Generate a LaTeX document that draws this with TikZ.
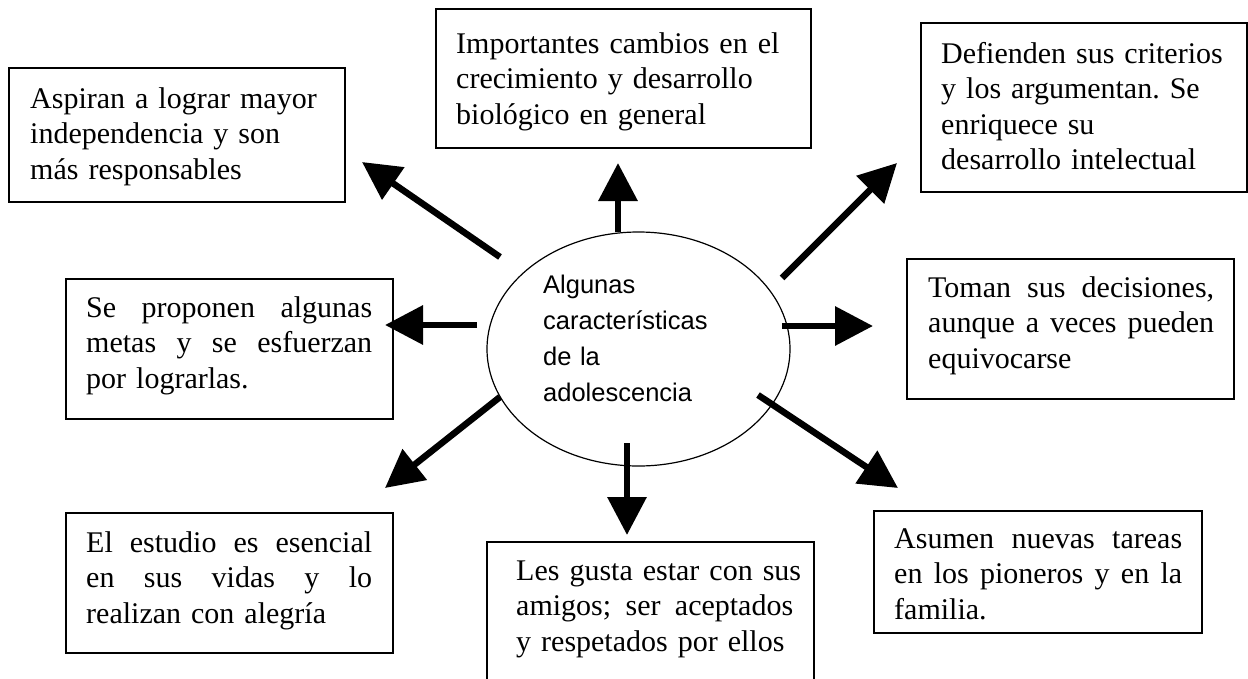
\documentclass[tikz,border=0pt]{standalone}
\usepackage{fontspec}
\setmainfont{Liberation Serif}
\newfontfamily\arialf{Liberation Sans}
\usetikzlibrary{arrows.meta}
\frenchspacing
\tikzset{
  box/.style={draw, line width=1.5pt, rectangle, inner sep=0pt},
  txt/.style={anchor=base west, inner sep=0pt, align=left, text width=360pt,
    font=\fontsize{30}{35.5}\selectfont},
  arr/.style={line width=6.5pt, -{Triangle[length=38pt,width=38pt]}},
}
\newcommand{\jl}[2]{\leavevmode\hbox to #1{#2}}
\begin{document}
\begin{tikzpicture}[x=1pt,y=-1pt]
\useasboundingbox (0,0) rectangle (1248,678);
\fill[white] (0,0) rectangle (1248,678);
% boxes
\node[box, minimum width=336pt, minimum height=134pt] (b1) at (177,135) {};
\node[box, minimum width=375pt, minimum height=139pt] (b2) at (623.5,78.5) {};
\node[box, minimum width=326pt, minimum height=169pt] (b3) at (1084,107.5) {};
\node[box, minimum width=327pt, minimum height=140pt] (b4) at (1070.5,329) {};
\node[box, minimum width=327pt, minimum height=140pt] (b5) at (229.5,349) {};
\node[box, minimum width=327pt, minimum height=140pt] (b6) at (229.5,583) {};
\node[box, minimum width=327pt, minimum height=142pt] (b7) at (650.5,613) {};
\node[box, minimum width=328pt, minimum height=122pt] (b8) at (1038,572) {};
% texts
\node[txt] (t1) at (30,108) {Aspiran a lograr mayor\\independencia y son\\más responsables};
\node[txt] (t2) at (456,53) {Importantes cambios en el\\crecimiento y desarrollo\\biológico en general};
\node[txt] (t3) at (941,63) {Defienden sus criterios\\y los argumentan. Se\\enriquece su\\desarrollo intelectual};
\node[txt] (t4) at (928,297) {\jl{286pt}{Toman\hfill sus\hfill decisiones,}\\\jl{286pt}{aunque\hfill a\hfill veces\hfill pueden}\\equivocarse};
\node[txt] (t5) at (86,317) {\jl{286pt}{Se\hfill proponen\hfill algunas}\\\jl{286pt}{metas\hfill y\hfill se\hfill esfuerzan}\\por lograrlas.};
\node[txt] (t6) at (86,552) {\jl{286pt}{El\hfill estudio\hfill es\hfill esencial}\\\jl{286pt}{en\hfill sus\hfill vidas\hfill y\hfill lo}\\realizan con alegría};
\node[txt] (t7) at (516,580) {Les gusta estar con sus\\\jl{277pt}{amigos;\hfill ser\hfill aceptados}\\y respetados por ellos};
\node[txt] (t8) at (894,548) {\jl{288pt}{Asumen\hfill nuevas\hfill tareas}\\\jl{288pt}{en\hfill los\hfill pioneros\hfill y\hfill en\hfill la}\\familia.};
% center ellipse
\draw[line width=1.2pt] (638.5,349) ellipse [x radius=151.5, y radius=117];
\node[anchor=base west, inner sep=0pt, align=left, text width=220pt,
  font=\arialf\fontsize{25.5}{36.3}\selectfont] (c) at (543,293)
  {Algunas\\características\\de la\\adolescencia};
% arrow end points
\coordinate (s1) at (500,257); \coordinate (e1) at (362,162);
\coordinate (s2) at (618,232); \coordinate (e2) at (618,163);
\coordinate (s3) at (782,278); \coordinate (e3) at (897,163);
\coordinate (s4) at (782,326); \coordinate (e4) at (873,326);
\coordinate (s5) at (477,325); \coordinate (e5) at (385,325);
\coordinate (s6) at (500,397); \coordinate (e6) at (385,488);
\coordinate (s7) at (627,443); \coordinate (e7) at (627,535);
\coordinate (s8) at (758,395); \coordinate (e8) at (898,488);
\foreach \i in {1,...,8} { \draw[arr] (s\i) -- (e\i); }
\end{tikzpicture}
\end{document}
